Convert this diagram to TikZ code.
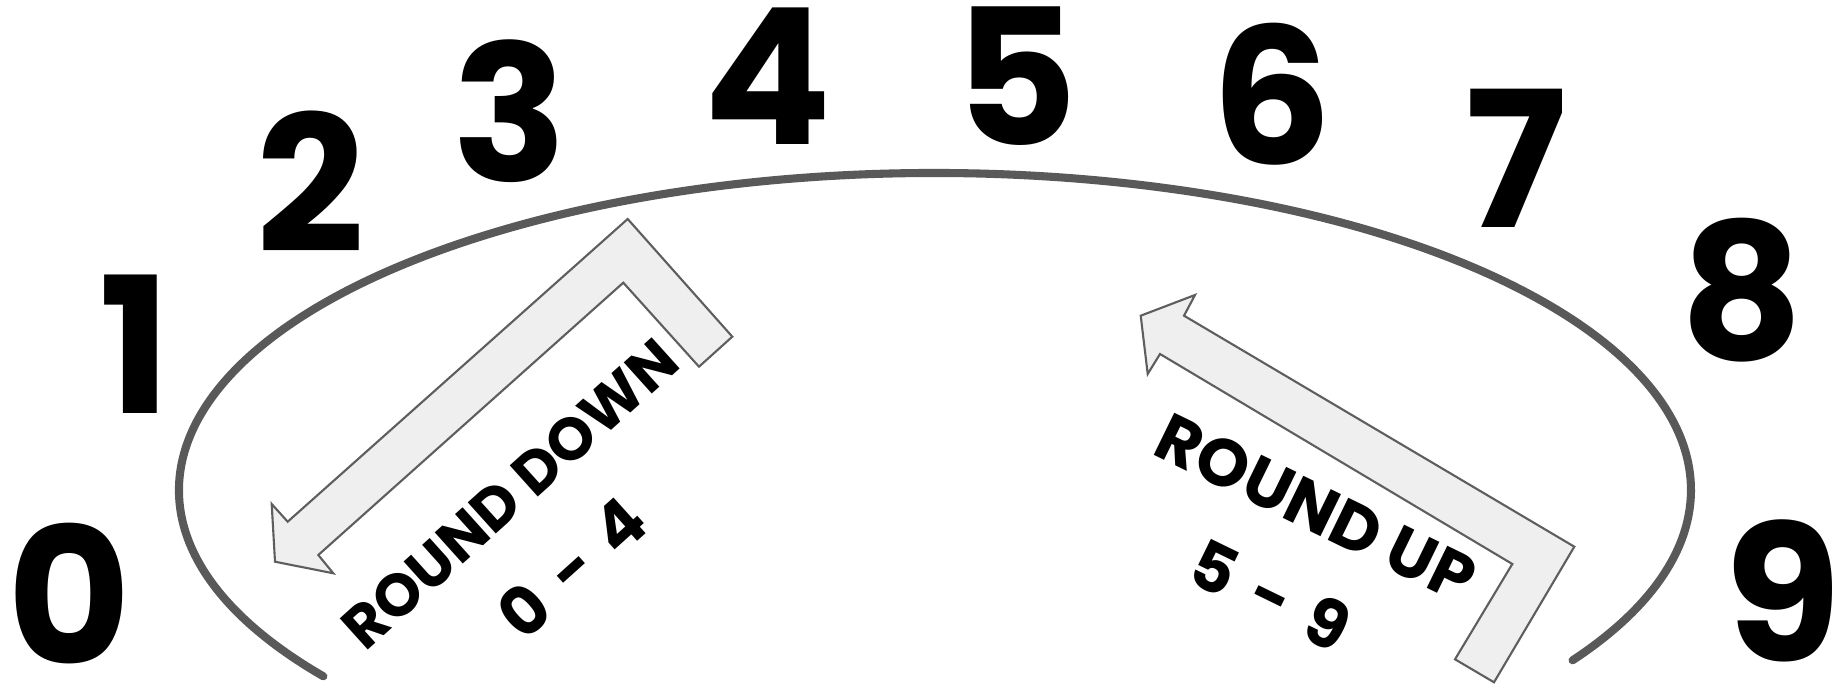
\documentclass[tikz,border=0pt]{standalone}
\usepackage{fontspec}
\setmainfont{Poppins}
\usepackage{tikz}
\usetikzlibrary{calc}
\definecolor{rimgray}{HTML}{595959}
\definecolor{arrowfill}{HTML}{EFEFEF}
\definecolor{arrowline}{HTML}{5E5E5E}
\tikzset{
  digit/.style={font=\fontsize{54}{54}\selectfont\bfseries, inner sep=0pt},
  rounding/.style={font=\fontsize{19}{19}\selectfont\bfseries, inner sep=0pt},
  bentarrow/.style={fill=arrowfill, draw=arrowline, line width=0.6pt, line join=miter}
}
\begin{document}
\begin{tikzpicture}
\useasboundingbox (0,0) rectangle (18.39,6.84);
\coordinate (C) at (9.35,1.94);

  % the dial
  \draw[rimgray, line width=2.3pt, line cap=round]
    ($(C)+(216:7.56 and 3.17)$) arc[start angle=216, end angle=-32.5, x radius=7.56, y radius=3.17];

  % digits round the dial
  \foreach \d/\x/\y in {0/0.69/0.90, 1/1.35/3.40, 2/3.11/5.02, 3/5.10/5.73, 4/7.68/6.08,
                        5/10.16/6.08, 6/12.72/5.90, 7/15.16/5.26, 8/17.42/3.94, 9/17.83/0.93}
    \node[digit] (d\d) at (\x,\y) {\d};

  % round down arrow
  \draw[bentarrow] (6.277,4.65) -- (7.323,3.473) -- (6.99,3.173) -- (6.233,4.013)
    -- (3.183,1.29) -- (3.333,1.107) -- (2.75,1.223) -- (2.717,1.80) -- (2.877,1.623) -- cycle;

  % round up arrow
  \draw[bentarrow] (11.407,3.683) -- (11.95,3.89) -- (11.84,3.683) -- (15.743,1.373)
    -- (14.94,0.017) -- (14.55,0.247) -- (15.123,1.20) -- (11.60,3.30) -- (11.477,3.10) -- cycle;

  \node[rounding, font=\fontsize{17}{17}\selectfont\bfseries, rotate=42] (down) at (5.10,1.90) {ROUND DOWN};
  \node[rounding, rotate=42] (downrange) at (5.72,1.17) {0\,\,-\,\,4};
  \node[rounding, rotate=-26] (up) at (13.16,1.76) {ROUND UP};
  \node[rounding, rotate=-26] (uprange) at (12.71,0.89) {5\,\,-\,\,9};
\end{tikzpicture}
\end{document}
